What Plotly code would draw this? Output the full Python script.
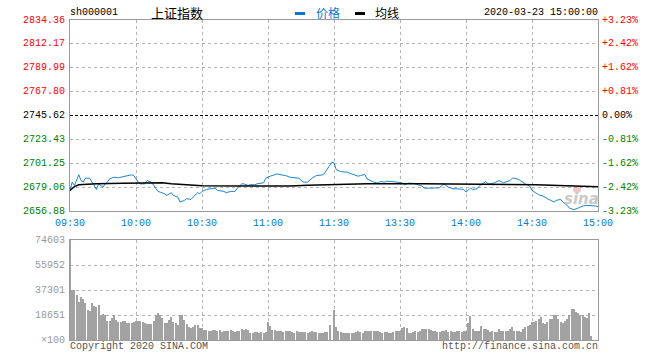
import plotly.graph_objects as go

# ---------------- data ----------------
prev_close = 2745.62
price_ticks = [2656.88, 2679.06, 2701.25, 2723.43, 2745.62, 2767.80, 2789.99, 2812.17, 2834.36]
pct_labels = ["-3.23%", "-2.42%", "-1.62%", "-0.81%", "0.00%", "+0.81%", "+1.62%", "+2.42%", "+3.23%"]
vol_ticks = [0, 18651, 37301, 55952, 74603]
vol_labels = ["×100", "18651", "37301", "55952", "74603"]
time_ticks = [0, 30, 60, 90, 120, 150, 180, 210, 240]
time_labels = ["09:30", "10:00", "10:30", "11:00", "11:30", "13:30", "14:00", "14:30", "15:00"]

# minute index (0 = 09:30, 120 = 11:30/13:00, 240 = 15:00)
price_t = [0, 1, 2, 3, 4, 5, 6, 7, 9, 10, 11, 12, 13, 14, 15, 16, 17, 18, 20, 22, 23, 25, 28, 29, 31, 32,
           34, 35, 37, 38, 40, 41, 43, 44, 46, 47, 49, 50, 52, 53, 55, 56, 58, 59, 60, 62, 64, 66, 67, 70,
           71, 73, 75, 76, 78, 79, 81, 82, 84, 85, 88, 89, 91, 94, 96, 98, 100, 103, 104, 106, 108, 110,
           112, 115, 116, 118, 119, 120,
           121, 123, 126, 128, 129, 131, 132, 134, 135, 137, 138, 140, 141, 143, 144, 146, 148, 151, 152,
           154, 155, 157, 160, 161, 163, 166, 168, 169, 170, 172, 174, 176, 179, 180, 182, 183, 185, 186,
           188, 189, 190, 191, 193, 194, 195, 197, 198, 200, 201, 202, 204, 206, 207, 209, 210, 213, 215,
           217, 220, 221, 223, 224, 226, 227, 229, 231, 233, 235, 238, 239, 240]
price = [2676.0, 2683.7, 2680.6, 2685.2, 2690.5, 2685.2, 2683.7, 2687.4, 2687.4, 2683.7, 2681.0, 2676.9,
         2682.1, 2680.6, 2679.1, 2682.1, 2683.7, 2686.8, 2688.3, 2687.7, 2688.3, 2689.2, 2690.5, 2689.8,
         2683.7, 2682.1, 2682.1, 2685.2, 2683.7, 2680.6, 2675.1, 2674.4, 2672.9, 2671.4, 2673.8, 2671.4,
         2669.8, 2665.2, 2666.7, 2668.3, 2667.7, 2669.8, 2673.8, 2672.9, 2675.1, 2676.9, 2677.5, 2678.1,
         2676.0, 2675.1, 2673.8, 2675.1, 2675.1, 2678.1, 2682.1, 2682.1, 2680.6, 2681.5, 2681.2, 2682.1,
         2683.1, 2687.4, 2689.2, 2691.4, 2690.5, 2689.8, 2688.3, 2687.4, 2687.4, 2683.7, 2683.7, 2687.4,
         2689.8, 2690.5, 2692.9, 2699.1, 2702.2, 2701.6,
         2695.4, 2693.5, 2692.9, 2691.4, 2690.5, 2689.2, 2689.8, 2690.8, 2686.8, 2684.6, 2683.7, 2682.8,
         2684.3, 2683.7, 2684.6, 2684.3, 2683.7, 2683.1, 2681.2, 2682.8, 2682.8, 2682.1, 2680.0, 2678.1,
         2678.1, 2678.1, 2678.4, 2680.6, 2682.1, 2679.1, 2677.5, 2677.5, 2676.9, 2674.4, 2678.1, 2676.9,
         2677.5, 2680.0, 2683.1, 2684.3, 2682.1, 2682.1, 2683.1, 2684.3, 2685.2, 2683.1, 2683.7, 2685.2,
         2687.4, 2687.4, 2686.1, 2683.1, 2682.1, 2680.0, 2676.0, 2672.0, 2670.7, 2668.3, 2665.2, 2666.7,
         2667.7, 2665.2, 2662.1, 2659.6, 2658.1, 2659.6, 2661.5, 2662.1, 2662.1, 2661.5, 2660.9]

avg_t = [0, 2, 4, 8, 12, 24, 30, 42, 46, 52, 60, 80, 100, 108, 116, 122, 135, 160, 190, 212, 222, 232, 240]
avg = [2676.0, 2679.5, 2681.2, 2681.8, 2682.2, 2682.6, 2683.0, 2683.1, 2682.3, 2681.4, 2680.4, 2680.0,
       2680.0, 2680.8, 2681.3, 2682.0, 2682.3, 2682.2, 2682.0, 2681.3, 2680.6, 2680.0, 2679.3]

vol_am = [74603, 37301, 37301, 33823, 28352, 32331, 30839, 27854, 22632, 21388, 27357, 25119, 24373, 25865,
          17658, 19647, 18404, 14425, 14425, 16414, 18653, 15171, 13679, 13430, 13927, 13927, 12435, 12684,
          12435, 13679, 14425, 13927, 14425, 13430, 12435, 11938, 11938, 11938, 13927, 18901, 20393, 18901,
          16166, 12435, 12435, 15171, 17409, 13430, 12932, 11440, 18404, 18404, 15171, 11689, 9948, 9202,
          9451, 11440, 10943, 8953, 8953, 7710, 7212, 6964, 6964, 7212, 7461, 6964, 7710, 5969, 6964, 6964,
          6466, 7212, 6466, 5969, 6466, 6964, 8207, 7461, 7958, 7710, 5223, 5471, 5720, 5969, 5223, 5720,
          5223, 5969, 13181, 10197, 7461, 7461, 6964, 6964, 6964, 6218, 6715, 6466, 6466, 5969, 5471, 6466,
          5969, 5720, 6218, 5969, 5471, 5969, 6964, 5969, 5969, 5223, 5223, 5471, 5969, 5969, 11440]
vol_pm = [22632, 9451, 6964, 5969, 5471, 5471, 5471, 5471, 5471, 4974, 5969, 6466, 5969, 5471, 6964, 6964,
          6466, 6466, 6964, 6466, 6466, 5969, 5223, 5720, 5720, 5471, 5223, 5720, 6466, 6466, 6466, 8953,
          9451, 8953, 5471, 5471, 5969, 6466, 5969, 6466, 8456, 8456, 8456, 7958, 7710, 6964, 6466, 5969,
          5969, 6466, 6964, 7461, 5969, 6466, 5969, 5969, 6466, 6466, 5969, 6466, 6964, 12435, 17906, 8456,
          6466, 6466, 6466, 10197, 8456, 8456, 7710, 5969, 6466, 6218, 5969, 8456, 6964, 6466, 6466, 6964,
          8456, 9451, 6466, 6466, 6466, 5969, 7958, 9451, 10445, 10943, 13430, 13430, 14425, 15419, 16912,
          12435, 11938, 13430, 15917, 15917, 18901, 18901, 15419, 13430, 12684, 13927, 15917, 18404, 23378,
          23378, 20891, 20145, 18901, 18404, 16912, 16414, 20393, 2984]
vol_t = list(range(len(vol_am))) + [120 + i for i in range(len(vol_pm))]
vol = vol_am + vol_pm

# ---------------- layout helpers ----------------
W, H = 660, 360


def px(x):
    return x / W


def py(y):
    return 1 - y / H


MONO = "Liberation Mono, DejaVu Sans Mono, monospace"
CJK = "Noto Sans CJK SC"
BLUE = "#0a78cc"
LINE_BLUE = "#1b84d4"
RED = "#ff0000"
GREEN = "#008000"
GRID = "#b4b4b4"
FRAME = "#9a9a9a"

X0, X1 = 70, 598
P_TOP, P_BOT = 20, 211
V_TOP, V_BOT = 240, 340

fig = go.Figure()
fig.add_trace(go.Bar(x=vol_t, y=vol, marker=dict(color="#a2a2a2", line=dict(width=0)), width=0.42,
                     xaxis="x2", yaxis="y2", hoverinfo="skip"))
fig.add_trace(go.Scatter(x=price_t, y=price, mode="lines", line=dict(color=LINE_BLUE, width=1),
                         xaxis="x", yaxis="y", hoverinfo="skip"))
fig.add_trace(go.Scatter(x=avg_t, y=avg, mode="lines", line=dict(color="#000000", width=1.5),
                         xaxis="x", yaxis="y", hoverinfo="skip"))

axis_common = dict(showline=True, mirror=True, linecolor=FRAME, linewidth=1, zeroline=False,
                   showgrid=True, gridcolor=GRID, griddash="dot", gridwidth=1, ticks="",
                   showticklabels=False, fixedrange=True)

fig.update_layout(
    width=W, height=H, margin=dict(l=0, r=0, t=0, b=0),
    paper_bgcolor="white", plot_bgcolor="white", showlegend=False, bargap=0,
    xaxis=dict(domain=[px(X0), px(X1)], range=[0, 240], tickvals=time_ticks[1:-1], anchor="y",
               **axis_common),
    yaxis=dict(domain=[py(P_BOT), py(P_TOP)], range=[price_ticks[0], price_ticks[-1]],
               tickvals=[v for v in price_ticks[1:-1] if v != prev_close], anchor="x", **axis_common),
    xaxis2=dict(domain=[px(X0), px(X1)], range=[0, 240], tickvals=time_ticks[1:-1], anchor="y2",
                **axis_common),
    yaxis2=dict(domain=[py(V_BOT), py(V_TOP)], range=[0, vol_ticks[-1]], tickvals=vol_ticks[1:-1],
                anchor="x2", **axis_common),
)

# previous close dashed line
fig.add_shape(type="line", xref="x domain", yref="y", x0=0, x1=1, y0=prev_close, y1=prev_close,
              line=dict(color="#000000", width=1, dash="3px,2px"))

ann = []
# price axis labels
for v, p in zip(price_ticks, pct_labels):
    col = RED if v > prev_close else ("#000000" if v == prev_close else GREEN)
    ann.append(dict(x=px(67), y=v, xref="paper", yref="y", text=f"{v:.2f}", xanchor="right",
                    yanchor="middle", showarrow=False, font=dict(family=MONO, size=10, color=col)))
    ann.append(dict(x=px(600), y=v, xref="paper", yref="y", text=p, xanchor="left",
                    yanchor="middle", showarrow=False, font=dict(family=MONO, size=10, color=col)))
# time labels
for t, lab in zip(time_ticks, time_labels):
    ann.append(dict(x=t, y=py(223), xref="x", yref="paper", text=lab, xanchor="center",
                    yanchor="middle", showarrow=False, font=dict(family=MONO, size=10, color=BLUE)))
# volume labels
for v, lab in zip(vol_ticks, vol_labels):
    ann.append(dict(x=px(67), y=v, xref="paper", yref="y2", text=lab, xanchor="right",
                    yanchor="middle", showarrow=False, font=dict(family=MONO, size=10, color="#999999")))
# header
ann.append(dict(x=px(68), y=py(13), xref="paper", yref="paper", text="sh000001", xanchor="left",
                yanchor="middle", showarrow=False, font=dict(family=MONO, size=10, color="#000000")))
ann.append(dict(x=px(149), y=py(13), xref="paper", yref="paper", text="上证指数", xanchor="left",
                yanchor="middle", showarrow=False, font=dict(family=CJK, size=13, color="#000000")))
ann.append(dict(x=px(314), y=py(13), xref="paper", yref="paper", text="价格", xanchor="left",
                yanchor="middle", showarrow=False, font=dict(family=CJK, size=12, color=BLUE)))
ann.append(dict(x=px(373), y=py(13), xref="paper", yref="paper", text="均线", xanchor="left",
                yanchor="middle", showarrow=False, font=dict(family=CJK, size=12, color="#000000")))
ann.append(dict(x=px(600), y=py(13), xref="paper", yref="paper", text="2020-03-23 15:00:00",
                xanchor="right", yanchor="middle", showarrow=False,
                font=dict(family=MONO, size=10, color="#000000")))
# footer
ann.append(dict(x=px(68), y=py(346), xref="paper", yref="paper", text="Copyright 2020 SINA.COM",
                xanchor="left", yanchor="middle", showarrow=False,
                font=dict(family=MONO, size=10, color="#555555")))
ann.append(dict(x=px(600), y=py(346), xref="paper", yref="paper", text="http://finance.sina.com.cn",
                xanchor="right", yanchor="middle", showarrow=False,
                font=dict(family=MONO, size=10, color="#555555")))
# watermark
ann.append(dict(x=px(581), y=py(199), xref="paper", yref="paper", text="sina", xanchor="center",
                yanchor="middle", showarrow=False,
                font=dict(family="DejaVu Sans", size=15, color="#c9c9c9", weight="bold", style="italic")))
fig.update_layout(annotations=ann)

# legend swatches
fig.add_shape(type="rect", xref="paper", yref="paper", x0=px(295), x1=px(305), y0=py(15), y1=py(12),
              fillcolor=BLUE, line=dict(width=0))
fig.add_shape(type="rect", xref="paper", yref="paper", x0=px(355), x1=px(365), y0=py(15), y1=py(12),
              fillcolor="#000000", line=dict(width=0))
# watermark eye
fig.add_shape(type="circle", xref="paper", yref="paper", x0=px(573), x1=px(581), y0=py(193), y1=py(186),
              fillcolor="#f2c4c4", line=dict(width=0), layer="below")

fig.write_html("out.html", config={"displayModeBar": False},
               post_script="document.body.style.margin='0px';")
